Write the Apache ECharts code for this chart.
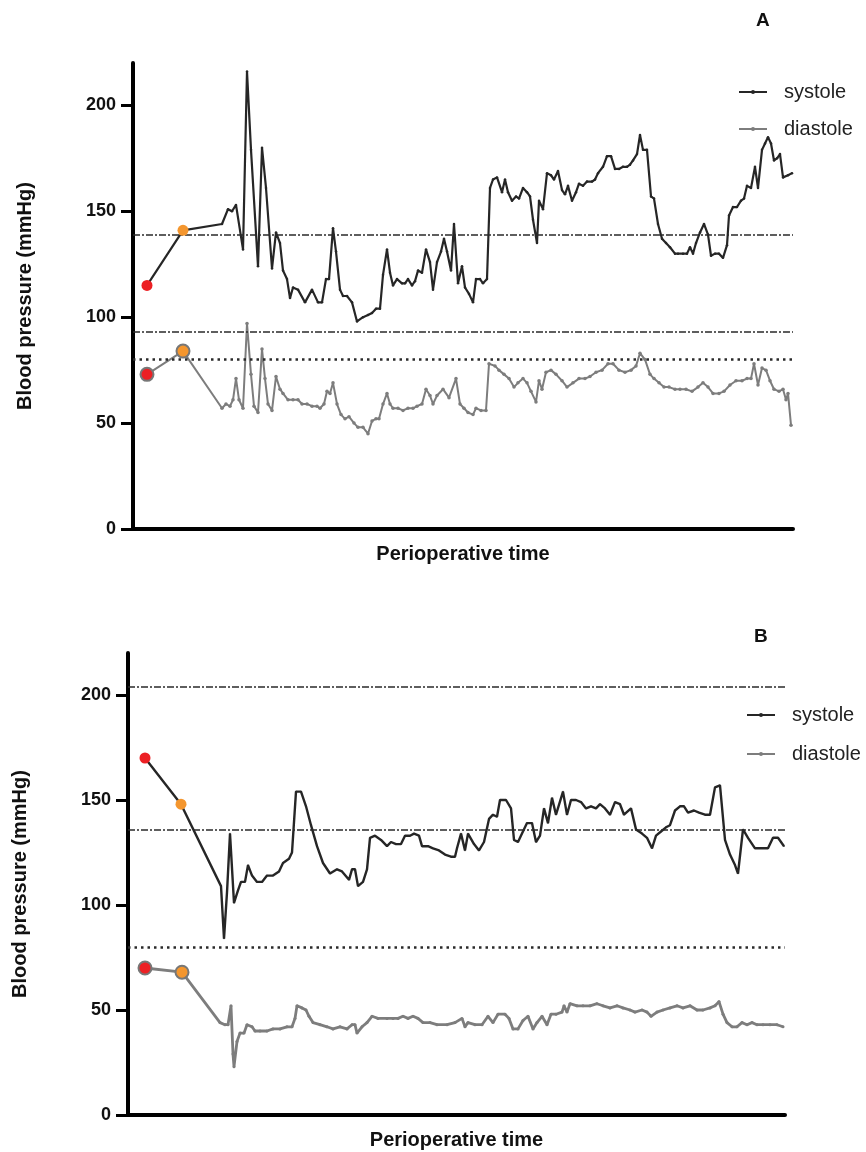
<!DOCTYPE html>
<html>
<head>
<meta charset="utf-8">
<script src="https://cdn.jsdelivr.net/npm/echarts@6/dist/echarts.min.js"></script>
<style>
html,body{margin:0;padding:0;background:#fff;}
#chart{width:866px;height:1152px;}
</style>
</head>
<body>
<div id="chart"></div>
<script>
// ---------- Panel A data (time in arbitrary perioperative units) ----------
const sysA_t = [14,50,89,95,99,103,110,114,118,125,129,133,139,143,147,150,154,157,160,165,172,179,185,189,193,196,200,203,207,210,214,219,224,230,235,239,243,247,250,254,257,260,264,269,272,275,279,282,285,289,293,297,300,304,308,311,314,318,321,325,329,332,336,340,343,347,350,354,357,360,364,369,372,375,379,383,386,390,394,397,400,404,406,410,414,418,421,425,429,432,435,439,443,446,450,454,459,462,465,470,474,478,482,486,490,494,497,500,504,507,510,514,518,521,525,529,533,537,542,545,550,554,557,560,563,567,571,575,578,582,586,590,594,596,600,604,608,611,614,618,622,625,629,632,635,638,641,644,647,650,655,659];
const sysA_v = [115,141,144,151,150,153,132,216,179,124,180,161,123,140,135,122,118,109,114,113,107,113,107,107,118,118,142,131,113,110,110,107,98,100,101,102,104,104,120,132,121,115,118,116,116,118,115,117,122,121,132,126,113,126,131,137,131,122,144,116,124,114,111,107,118,118,116,118,161,165,166,159,165,159,155,157,156,161,159,157,146,135,155,151,168,167,165,169,160,158,162,155,159,163,162,164,164,165,168,171,176,176,170,170,171,171,172,174,177,186,179,179,157,156,144,137,135,133,130,130,130,130,133,130,135,140,144,139,129,130,130,128,134,148,152,152,155,156,162,161,171,161,179,182,185,182,174,175,177,166,167,168];
const diaA_t = [14,50,89,93,97,100,103,106,110,114,118,121,125,129,132,135,139,143,147,150,155,160,165,169,174,179,184,187,191,194,197,200,204,208,212,216,221,225,230,235,239,243,246,250,254,257,260,265,270,275,280,284,289,293,297,300,304,310,316,323,327,331,335,340,343,348,353,356,362,366,371,376,381,385,390,394,398,403,406,409,413,418,423,429,434,440,446,452,457,463,469,475,480,486,492,498,503,507,512,517,521,526,531,536,542,547,553,559,565,570,575,580,586,591,597,603,609,614,618,621,625,629,633,637,641,646,650,653,655,658];
const diaA_v = [73,84,57,59,58,61,71,61,57,97,73,58,55,85,71,59,56,72,66,64,61,61,61,59,59,58,58,57,59,65,64,69,59,54,52,53,50,48,48,45,51,52,52,59,64,59,57,57,56,57,57,58,59,66,63,59,63,66,62,71,59,57,55,54,57,56,56,78,77,75,73,71,67,69,71,69,65,60,70,66,74,75,73,70,67,69,71,71,72,74,75,78,78,75,74,75,77,83,80,73,71,69,67,67,66,66,66,65,67,69,67,64,64,65,68,70,70,71,71,78,68,76,75,70,66,65,66,61,64,49];
const thresholdsA = [139, 93, 80];

// ---------- Panel B data ----------
const sysB_t = [17,53,93,96,99,102,106,110,113,117,120,124,129,134,139,145,151,155,161,164,168,173,178,183,189,195,202,209,214,221,224,227,230,235,239,242,247,253,259,263,268,273,277,282,286,291,294,300,305,311,317,323,327,329,333,337,340,346,351,356,361,365,369,372,378,383,386,390,394,399,404,408,412,416,420,424,428,435,439,443,448,453,458,463,468,472,477,482,487,492,496,503,508,514,519,524,528,533,538,542,547,552,556,560,566,571,577,582,587,592,597,602,607,610,615,620,627,633,640,645,650,656];
const sysB_v = [170,148,109,84,106,134,101,107,111,111,119,114,111,111,114,114,116,120,122,125,154,154,147,138,128,120,115,117,116,112,117,117,109,111,117,132,133,131,128,130,129,129,133,133,134,133,128,128,127,126,124,123,123,127,134,126,134,129,126,130,141,143,142,150,150,146,131,130,134,139,139,130,133,146,139,151,143,154,143,150,150,149,146,147,146,148,146,143,149,148,143,146,136,134,132,127,133,135,137,138,145,147,147,144,145,144,143,143,156,157,131,124,119,115,136,132,127,127,127,132,132,128];
const diaB_t = [17,54,92,97,100,103,105,106,109,112,116,119,124,127,132,139,145,152,159,164,167,169,174,178,181,185,192,199,205,212,219,224,227,229,234,239,244,250,259,265,270,275,280,285,290,295,302,309,319,327,334,337,340,347,354,360,365,370,377,381,385,390,395,400,405,409,414,419,423,428,434,436,439,442,449,455,462,469,475,482,489,495,502,507,514,519,523,529,535,542,549,555,562,569,575,582,587,591,595,599,604,609,614,619,624,629,635,642,649,655];
const diaB_v = [70,68,44,43,43,52,29,23,35,39,39,43,42,40,40,40,41,41,42,42,46,52,51,50,47,44,43,42,41,42,41,43,43,39,42,44,47,46,46,46,46,47,46,47,46,44,44,43,43,44,46,42,44,43,43,47,44,48,48,46,41,41,45,47,41,44,47,43,48,48,49,52,49,53,52,52,52,53,52,51,52,51,50,49,50,49,47,49,50,51,52,51,52,50,50,51,52,54,48,44,42,42,44,43,44,43,43,43,43,42];
const thresholdsB = [204, 136, 80];

const yTicks = [0, 50, 100, 150, 200];
const seriesNames = ['systole', 'diastole'];
const panelLabels = ['A', 'B'];
const xTitle = 'Perioperative time';
const yTitle = 'Blood pressure (mmHg)';

// ---------- styling ----------
const FONT = "'Liberation Sans', Arial, Helvetica, sans-serif";
const SYS_COLOR = '#262626';
const DIA_COLOR = '#7d7d7d';
const RED = '#ec2024';
const ORANGE = '#f4962e';
const thrStyles = [
  {type: [7, 2, 2, 2], width: 1.7, color: '#2a2a2a'},
  {type: [7, 2, 2, 2], width: 1.7, color: '#2a2a2a'},
  {type: [2.5, 4], width: 2.6, color: '#2a2a2a'}
];

function pairs(t, v) { return t.map((x, i) => [x, v[i]]); }
function thrLines(vals) {
  return {
    silent: true, symbol: 'none', label: {show: false},
    data: vals.map((v, i) => ({yAxis: v, lineStyle: thrStyles[i]}))
  };
}
function firstTwo(t, v, bordered) {
  return [0, 1].map(i => ({
    value: [t[i], v[i]],
    itemStyle: {
      color: i === 0 ? RED : ORANGE, opacity: 1,
      borderColor: bordered ? '#777' : 'transparent',
      borderWidth: bordered ? 2 : 0
    }
  }));
}

function xAx(idx, max) {
  return {
    gridIndex: idx, type: 'value', min: 0, max: max,
    axisLine: {show: true, lineStyle: {color: '#000', width: 4}},
    axisTick: {show: false}, axisLabel: {show: false}, splitLine: {show: false},
    name: xTitle, nameLocation: 'middle', nameGap: 15,
    nameTextStyle: {fontFamily: FONT, fontWeight: 'bold', fontSize: 20, color: '#111', verticalAlign: 'top'}
  };
}
function yAx(idx) {
  return {
    gridIndex: idx, type: 'value', min: 0, max: 220,
    axisLine: {show: true, lineStyle: {color: '#000', width: 4}},
    axisTick: {show: true, length: 12, lineStyle: {color: '#000', width: 3}, customValues: yTicks},
    axisLabel: {show: true, customValues: yTicks, margin: 17, fontFamily: FONT, fontWeight: 'bold', fontSize: 18, color: '#111'},
    splitLine: {show: false},
    name: yTitle, nameLocation: 'middle', nameGap: 98,
    nameTextStyle: {fontFamily: FONT, fontWeight: 'bold', fontSize: 20, color: '#111'}
  };
}

function lineSeries(name, idx, t, v, color, width, symSize, thr) {
  const s = {
    name: name, type: 'line', xAxisIndex: idx, yAxisIndex: idx,
    data: pairs(t, v), symbol: 'circle', symbolSize: symSize,
    showSymbol: true, showAllSymbol: true,
    lineStyle: {color: color, width: width}, itemStyle: {color: color},
    emphasis: {disabled: true}, z: 3
  };
  if (thr) s.markLine = thrLines(thr);
  return s;
}
function dotSeries(idx, t, v, bordered, size) {
  return {
    type: 'scatter', xAxisIndex: idx, yAxisIndex: idx,
    data: firstTwo(t, v, bordered), symbolSize: size, z: 5,
    itemStyle: {opacity: 1},
    emphasis: {disabled: true}
  };
}

const legendBase = {
  orient: 'vertical', data: seriesNames, itemWidth: 28, itemHeight: 5, itemGap: 17,
  textStyle: {fontFamily: FONT, fontSize: 20, color: '#222', padding: [0, 0, 0, 12]}
};

const option = {
  animation: false,
  backgroundColor: '#fff',
  title: [
    {text: panelLabels[0], left: 751, top: 6, textStyle: {fontFamily: FONT, fontWeight: 'bold', fontSize: 19, color: '#111'}},
    {text: panelLabels[1], left: 749, top: 622, textStyle: {fontFamily: FONT, fontWeight: 'bold', fontSize: 19, color: '#111'}}
  ],
  legend: [
    Object.assign({}, legendBase, {left: 733, top: 77}),
    Object.assign({}, legendBase, {left: 741, top: 700, itemGap: 19})
  ],
  grid: [
    {left: 133, right: 73, top: 63, bottom: 623},
    {left: 128, right: 81, top: 653, bottom: 37}
  ],
  xAxis: [xAx(0, 660), xAx(1, 657)],
  yAxis: [yAx(0), yAx(1)],
  series: [
    lineSeries(seriesNames[0], 0, sysA_t, sysA_v, SYS_COLOR, 2.2, 2.5, thresholdsA),
    lineSeries(seriesNames[1], 0, diaA_t, diaA_v, DIA_COLOR, 2, 3.5, null),
    dotSeries(0, sysA_t, sysA_v, false, 11),
    dotSeries(0, diaA_t, diaA_v, true, 13),
    lineSeries(seriesNames[0], 1, sysB_t, sysB_v, SYS_COLOR, 2.4, 1.5, thresholdsB),
    lineSeries(seriesNames[1], 1, diaB_t, diaB_v, DIA_COLOR, 2.8, 3, null),
    dotSeries(1, sysB_t, sysB_v, false, 11),
    dotSeries(1, diaB_t, diaB_v, true, 13)
  ]
};

const chart = echarts.init(document.getElementById('chart'), null, {renderer: 'canvas'});
chart.setOption(option);
</script>
</body>
</html>
